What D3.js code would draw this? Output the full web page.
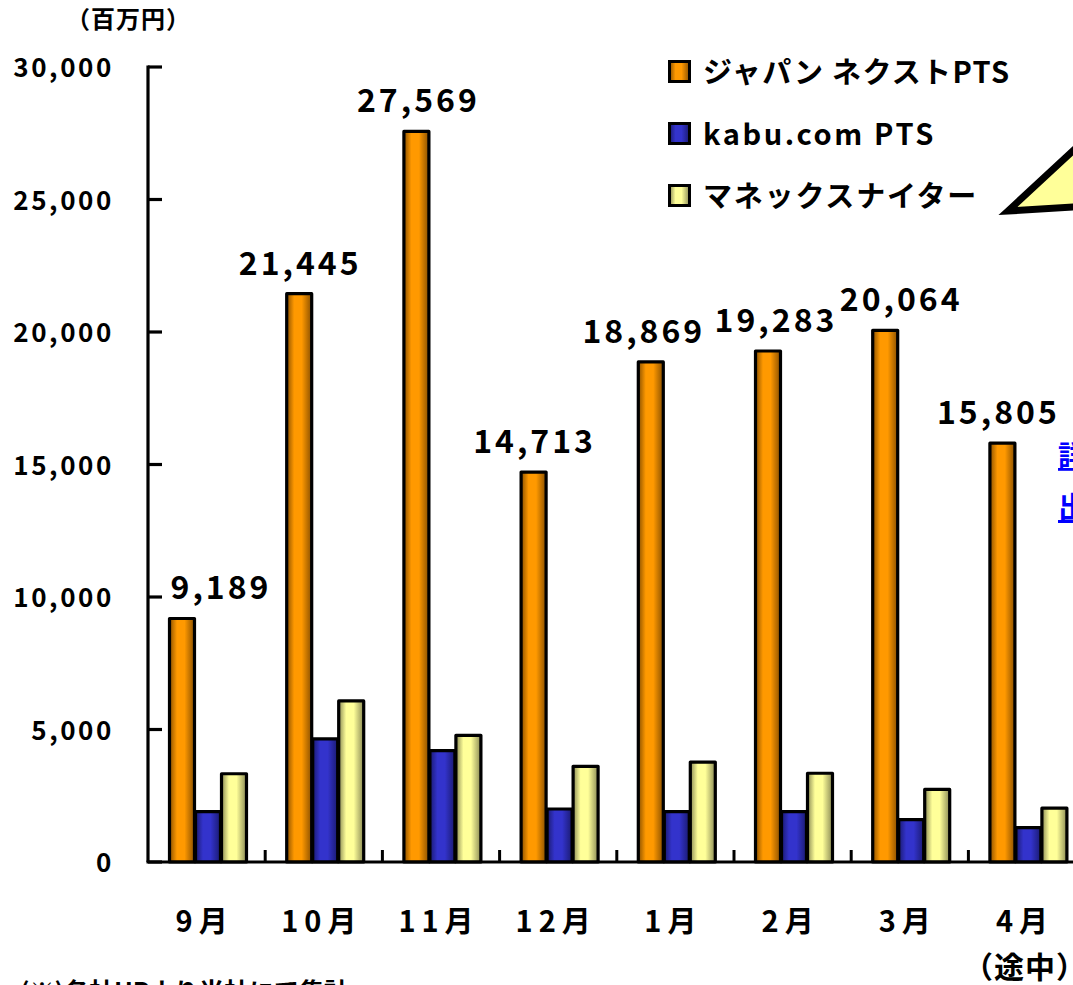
<!DOCTYPE html>
<html><head><meta charset="utf-8">
<script src="https://cdn.jsdelivr.net/npm/d3@7"></script>
<style>
html,body{margin:0;padding:0;background:#fff;overflow:hidden;}
svg{display:block;}
text{font-family:"Noto Sans CJK JP","Noto Sans",sans-serif;font-weight:bold;fill:#000;}
</style></head>
<body>
<svg id="c" width="1073" height="985"></svg>
<script>
const months = ["9月","10月","11月","12月","1月","2月","3月","4月"];
const seriesNames = ["ジャパン ネクストPTS","kabu.com PTS","マネックスナイター"];
const japanNext = [9189,21445,27569,14713,18869,19283,20064,15805];
const kabuCom = [1900,4650,4200,2000,1900,1900,1600,1300];
const monexNighter = [3330,6080,4780,3610,3770,3350,2740,2030];
const yTicks = [0,5000,10000,15000,20000,25000,30000];
const unitLabel = "（百万円）";
const note = "(※)各社HPより当社にて集計";
const partialLabel = "（途中）";

const seriesValues = [japanNext, kabuCom, monexNighter];
const colors = [
  {mid:"#ff9900", edge:"#8a5000"},
  {mid:"#3333cc", edge:"#1a1a70"},
  {mid:"#ffff99", edge:"#8a8a55"}
];

const svg = d3.select("#c");
const defs = svg.append("defs");
colors.forEach((c,i)=>{
  const g = defs.append("linearGradient").attr("id","g"+i).attr("x1","0").attr("x2","1").attr("y1","0").attr("y2","0");
  g.append("stop").attr("offset","0").attr("stop-color",c.edge);
  g.append("stop").attr("offset","0.3").attr("stop-color",c.mid);
  g.append("stop").attr("offset","0.6").attr("stop-color",c.mid);
  g.append("stop").attr("offset","1").attr("stop-color",c.edge);
});

const x0 = 148, groupW = 117.2;
const x = d3.scaleBand().domain(months).range([x0, x0 + groupW*months.length]).padding(0);
const xs = d3.scaleBand().domain([0,1,2]).range([20, 98]).padding(0);
const y = d3.scaleLinear().domain([0,30000]).range([862, 67]);

// bars
months.forEach((m,i)=>{
  seriesValues.forEach((vals,s)=>{
    svg.append("rect")
      .attr("x", x(m)+xs(s)+1.5)
      .attr("y", y(vals[i]))
      .attr("width", xs.bandwidth()-1)
      .attr("height", y(0)-y(vals[i]))
      .attr("fill","url(#g"+s+")")
      .attr("stroke","#000").attr("stroke-width",3.2)
      .attr("stroke-linejoin","round");
  });
});

// y axis
svg.append("line").attr("x1",x0).attr("x2",x0).attr("y1",y(30000)-1.5).attr("y2",y(0))
  .attr("stroke","#000").attr("stroke-width",3.2);
yTicks.forEach(t=>{
  svg.append("line").attr("x1",x0).attr("x2",x0+14).attr("y1",y(t)).attr("y2",y(t))
    .attr("stroke","#000").attr("stroke-width",3.2);
  svg.append("text").attr("x",114).attr("y",y(t)+10).attr("text-anchor","end")
    .attr("font-size",26).attr("letter-spacing",2.6)
    .text(d3.format(",")(t));
});
// x axis
svg.append("line").attr("x1",x0-1.5).attr("x2",1073).attr("y1",y(0)).attr("y2",y(0))
  .attr("stroke","#000").attr("stroke-width",3.2);
months.forEach((m,i)=>{
  if(i>0){
    svg.append("line").attr("x1",x(m)).attr("x2",x(m)).attr("y1",y(0)).attr("y2",y(0)-12)
      .attr("stroke","#000").attr("stroke-width",3);
  }
  svg.append("text").attr("x",x(m)+groupW/2-2).attr("y",932).attr("text-anchor","middle")
    .attr("font-size",29).attr("letter-spacing",6).text(m);
});
svg.append("text").attr("x",x(months[7])+groupW/2-2).attr("y",978).attr("text-anchor","middle")
  .attr("font-size",30).attr("letter-spacing",1).text(partialLabel);

// value labels (hand-placed in the original: small horizontal nudges)
const nudge = i => [40,2,3,2,-6,9,17,-3][i];
months.forEach((m,i)=>{
  const cx = x(m)+xs(0)+xs.bandwidth()/2 + nudge(i);
  svg.append("text").attr("x",cx).attr("y",y(japanNext[i])-19).attr("text-anchor","middle")
    .attr("font-size",32).attr("letter-spacing",3)
    .text(d3.format(",")(japanNext[i]));
});

// unit label
svg.append("text").attr("x",66).attr("y",28).attr("font-size",24).attr("letter-spacing",1).text(unitLabel);

// legend
const legendSpacing = [1.3, 2.6, 1.8];
seriesNames.forEach((n,i)=>{
  const ly = 72 + i*62;
  svg.append("rect").attr("x",669.5).attr("y",ly-10.5).attr("width",20).attr("height",20)
    .attr("fill","url(#g"+i+")").attr("stroke","#000").attr("stroke-width",3);
  svg.append("text").attr("x",703).attr("y",ly+11).attr("font-size",29)
    .attr("letter-spacing", legendSpacing[i]).text(n);
});

// callout (partially visible)
svg.append("path").attr("d","M1008,211 L1090,135 L1090,206 Z")
  .attr("fill","#ffff99").attr("stroke","#000").attr("stroke-width",7).attr("stroke-linejoin","miter");

// partially visible blue link text
svg.append("text").attr("x",1058).attr("y",466).attr("font-size",28)
  .style("fill","#0000ff").attr("text-decoration","underline").text("詳");
svg.append("text").attr("x",1058).attr("y",518).attr("font-size",30)
  .style("fill","#0000ff").attr("text-decoration","underline").text("出");

// note
svg.append("text").attr("x",20).attr("y",1001).attr("font-size",25).text(note);
</script>
</body></html>
